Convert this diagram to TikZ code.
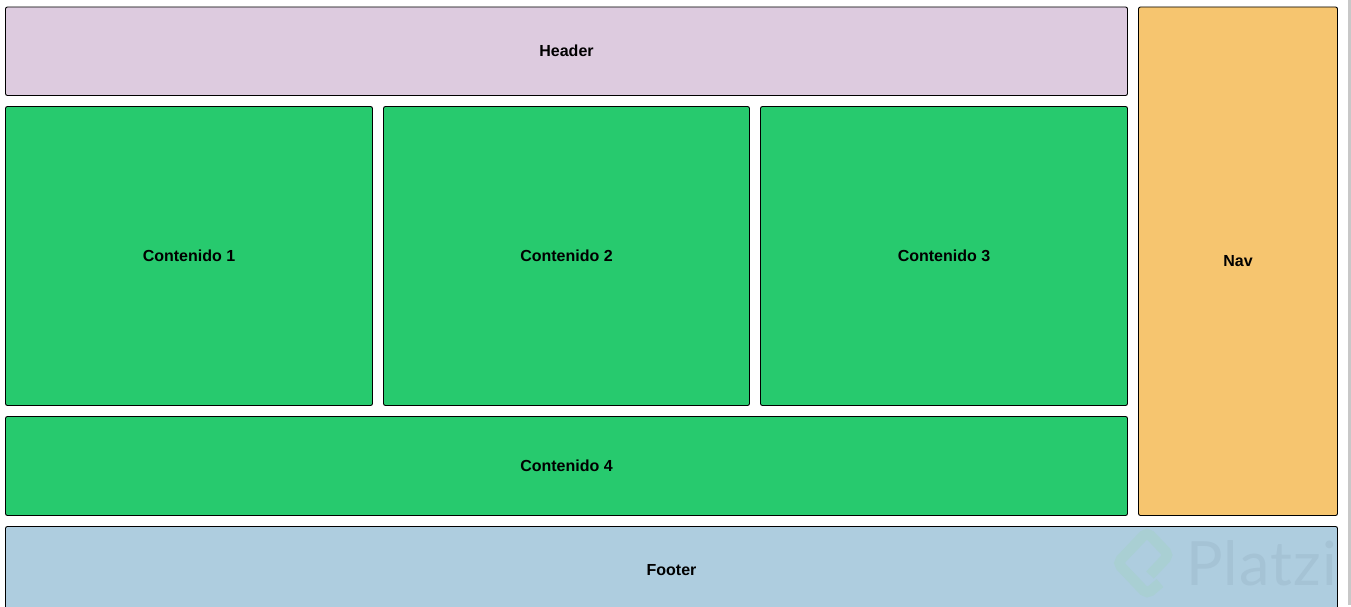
\documentclass[tikz,border=0pt]{standalone}
\usepackage{fontspec}
\setmainfont{Liberation Sans}
\newfontfamily\markfont[LetterSpace=2]{Lato}
\usetikzlibrary{calc}
\definecolor{headercol}{HTML}{DDCBDF}
\definecolor{contentcol}{HTML}{27CA6E}
\definecolor{navcol}{HTML}{F6C56F}
\definecolor{footercol}{HTML}{AECDDF}
\definecolor{stripcol}{HTML}{C8C8C8}
\definecolor{logocol}{HTML}{A9CFD3}
\definecolor{markcol}{HTML}{A5C3D5}
\begin{document}
\begin{tikzpicture}[x=1pt,y=-1pt]
% These determine how the boxes will look.
\tikzstyle{region}=[draw=black,line width=0.9pt,rounded corners=2pt,inner sep=0pt,
font=\fontsize{16}{19}\selectfont\bfseries]

% This fixes the page.
\useasboundingbox (0,0) rectangle (1351,607);
\clip (0,0) rectangle (1351,607);
\fill[white] (0,0) rectangle (1351,607);
\fill[stripcol] (1347.5,0) rectangle (1351,605);

% This draws the header and the nav.
\draw[region,fill=headercol] (5.5,7) rectangle (1127.5,95.5) node (header) [midway,draw=none] {Header};
\draw[region,fill=navcol] (1138.5,7) rectangle (1337.5,515.5) node (nav) [midway,draw=none] {Nav};

% This draws the content boxes.
\draw[region,fill=contentcol] (5.5,106.5) rectangle (372.5,405.5) node (content1) [midway,draw=none] {Contenido 1};
\draw[region,fill=contentcol] (383.5,106.5) rectangle (749.5,405.5) node (content2) [midway,draw=none] {Contenido 2};
\draw[region,fill=contentcol] (760.5,106.5) rectangle (1127.5,405.5) node (content3) [midway,draw=none] {Contenido 3};
\draw[region,fill=contentcol] (5.5,416.5) rectangle (1127.5,515.5) node (content4) [midway,draw=none] {Contenido 4};

% This draws the footer, which runs off the page.
\draw[region,fill=footercol] (5.5,526.5) rectangle (1337.5,614) node (footer) [midway,draw=none] {Footer};

% This draws the watermark.
\begin{scope}
\clip (1100,527) rectangle (1337,607);
\draw[logocol,line width=10.5pt,rounded corners=5pt] (1160,583) -- (1147,594) -- (1117.5,563) -- (1147,532) -- (1169,555) -- (1150,575);
\node[markcol,font=\markfont\fontsize{61}{61}\selectfont,anchor=base west,inner sep=0pt] (mark) at (1186,585) {Platzi};
\end{scope}
\end{tikzpicture}
\end{document}
